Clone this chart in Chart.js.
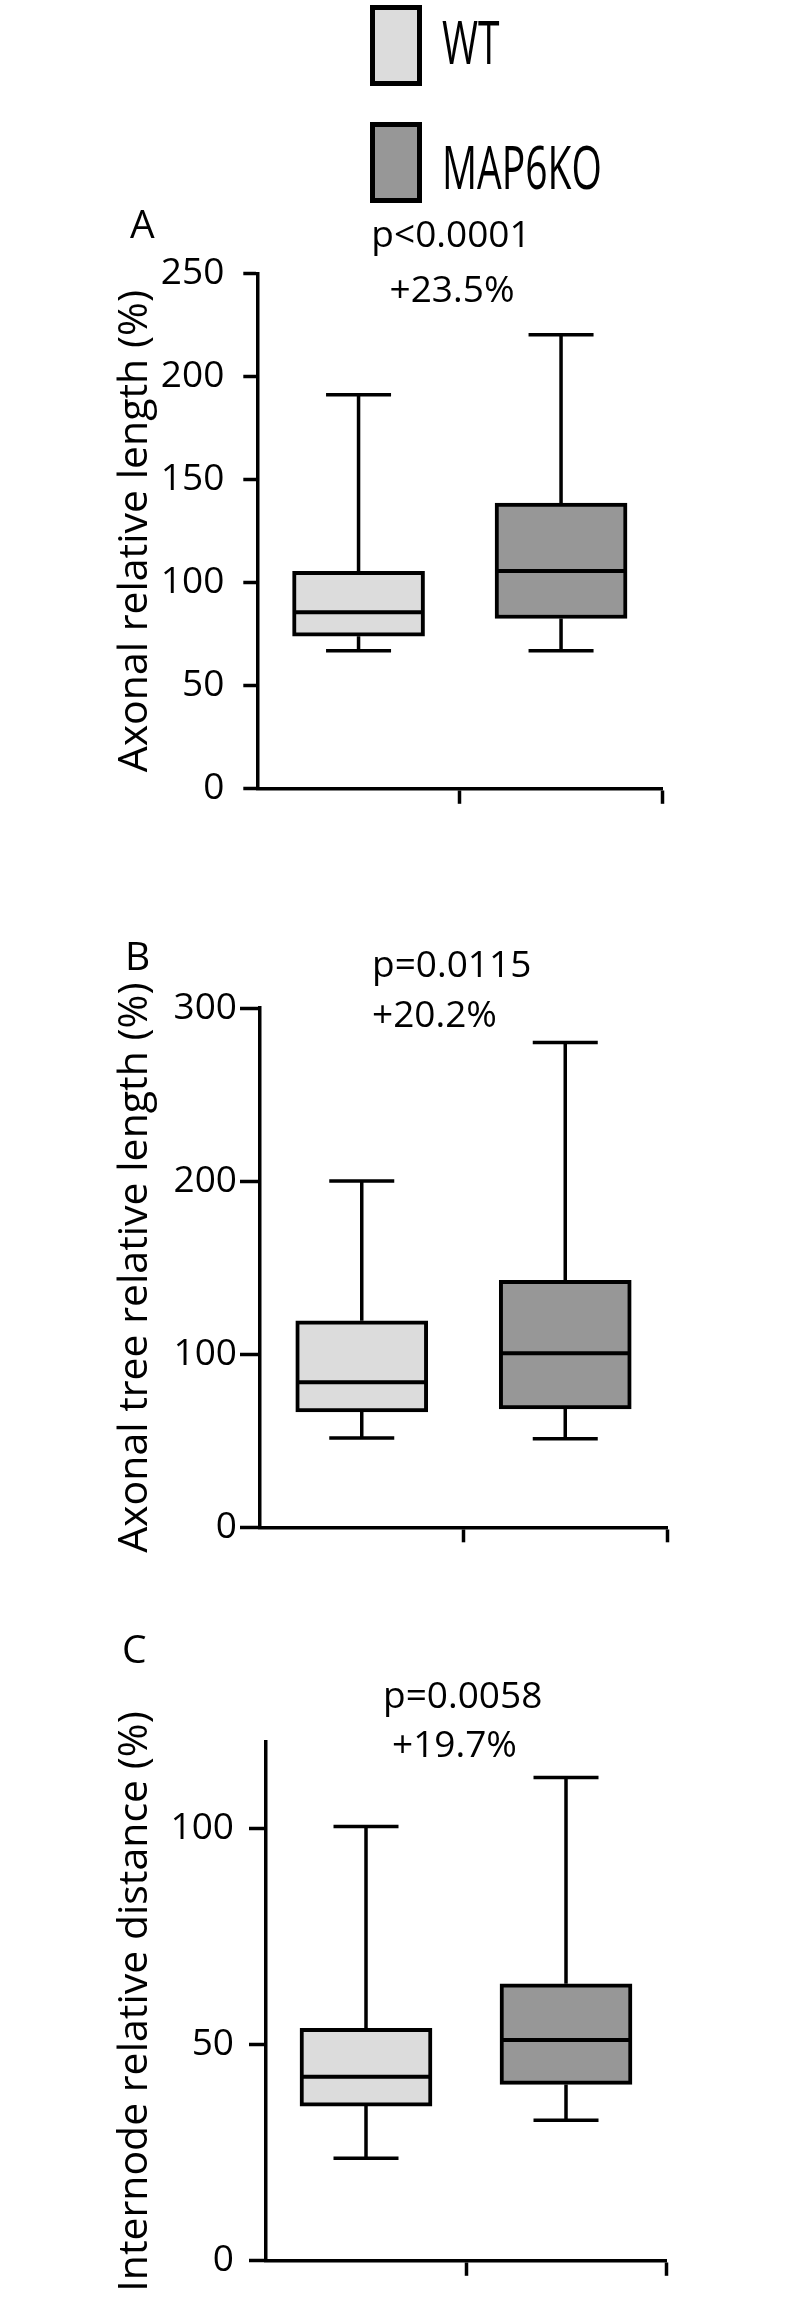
<!DOCTYPE html>
<html>
<head>
<meta charset="utf-8">
<script src="https://cdn.jsdelivr.net/npm/chart.js@4.4.1/dist/chart.umd.min.js"></script>
<style>
  html, body { margin: 0; padding: 0; background: #fff; }
  #page { position: relative; width: 789px; height: 2298px; overflow: hidden; font-family: "Open Sans", sans-serif; }
  canvas { position: absolute; left: 0; }
  .key { position: absolute; left: 370px; width: 42px; height: 71px; border: 5px solid #000; }
  .key-label { position: absolute; left: 442px; font-size: 61px; line-height: 61px; transform: scaleX(0.64); transform-origin: 0 0; color: #000; white-space: nowrap; }
</style>
</head>
<body>
<div id="page">
  <div class="key" style="top:5px;background:#dcdcdc"></div>
  <div class="key-label" style="top:10px">WT</div>
  <div class="key" style="top:122px;background:#979797"></div>
  <div class="key-label" style="top:135px">MAP6KO</div>

  <canvas id="chartA" width="789" height="640" style="top:190px"></canvas>
  <canvas id="chartB" width="789" height="640" style="top:930px"></canvas>
  <canvas id="chartC" width="789" height="698" style="top:1600px"></canvas>
</div>
<script>
const groups = ['WT', 'MAP6KO'];
const fills = ['#dcdcdc', '#979797'];

// A: axonal relative length (%)
const minA = [67, 67];
const q1A = [74, 82.6];
const medA = [85.7, 105.7];
const q3A = [105.5, 138.6];
const maxA = [191.2, 220.3];
const ticksA = [0, 50, 100, 150, 200, 250];

// B: axonal tree relative length (%)
const minB = [51.6, 51.1];
const q1B = [66.6, 68.4];
const medB = [83.8, 100.6];
const q3B = [119.3, 142.7];
const maxB = [200, 280];
const ticksB = [0, 100, 200, 300];

// C: internode relative distance (%)
const minC = [23.7, 32.5];
const q1C = [35.8, 40.8];
const medC = [42.6, 51.1];
const q3C = [53.8, 64.1];
const maxC = [100.5, 111.8];
const ticksC = [0, 50, 100];

Chart.defaults.font.family = "'Open Sans', sans-serif";
Chart.defaults.color = '#000';

function whiskerPlugin(mins, meds, maxs) {
  return {
    id: 'whiskers',
    afterDatasetsDraw(chart) {
      const ctx = chart.ctx;
      const y = chart.scales.y;
      const ds = chart.data.datasets[0].data;
      ctx.save();
      ctx.strokeStyle = '#000';
      chart.getDatasetMeta(0).data.forEach((bar, i) => {
        const x = bar.x;
        const half = bar.width / 2;
        const cap = 32.5;
        const lo = y.getPixelForValue(ds[i][0]);
        const hi = y.getPixelForValue(ds[i][1]);
        const yMin = y.getPixelForValue(mins[i]);
        const yMax = y.getPixelForValue(maxs[i]);
        const yMed = y.getPixelForValue(meds[i]);
        ctx.lineWidth = 3.5;
        ctx.beginPath();
        ctx.moveTo(x, hi); ctx.lineTo(x, yMax);
        ctx.moveTo(x, lo); ctx.lineTo(x, yMin);
        ctx.moveTo(x - cap, yMax); ctx.lineTo(x + cap, yMax);
        ctx.moveTo(x - cap, yMin); ctx.lineTo(x + cap, yMin);
        ctx.stroke();
        ctx.lineWidth = 4;
        ctx.beginPath();
        ctx.moveTo(x - half + 2, yMed); ctx.lineTo(x + half - 2, yMed);
        ctx.stroke();
      });
      ctx.restore();
    }
  };
}

function notesPlugin(notes) {
  return {
    id: 'notes',
    afterDraw(chart) {
      const ctx = chart.ctx;
      ctx.save();
      ctx.fillStyle = '#000';
      ctx.textBaseline = 'alphabetic';
      notes.forEach(n => {
        ctx.font = n.size + "px 'Open Sans'";
        ctx.textAlign = n.align;
        ctx.fillText(n.text, n.x, n.y);
      });
      ctx.restore();
    }
  };
}

function boxChart(id, s) {
  new Chart(document.getElementById(id), {
    type: 'bar',
    data: {
      labels: groups,
      datasets: [{
        data: s.q1.map((v, i) => [v, s.q3[i]]),
        backgroundColor: fills,
        borderColor: '#000',
        borderWidth: 4,
        borderSkipped: false,
        barThickness: 132
      }]
    },
    options: {
      responsive: false,
      animation: false,
      layout: { padding: s.padding },
      plugins: { legend: { display: false }, tooltip: { enabled: false } },
      scales: {
        x: {
          type: 'category',
          offset: true,
          afterFit: sc => { sc.height = 20; },
          ticks: { display: false },
          grid: {
            offset: true,
            drawOnChartArea: false,
            drawTicks: true,
            tickLength: 15,
            tickWidth: 3.5,
            tickColor: c => c.index === 0 ? 'rgba(0,0,0,0)' : '#000'
          },
          border: { display: true, color: '#000', width: 3.5 }
        },
        y: {
          min: 0,
          max: s.max,
          afterFit: sc => { sc.width = s.yWidth; },
          afterBuildTicks: sc => { sc.ticks = s.ticks.map(v => ({ value: v })); },
          ticks: { autoSkip: false, padding: s.tickPad, font: { size: 37 }, color: '#000' },
          grid: {
            drawOnChartArea: false,
            drawTicks: true,
            tickLength: s.tickLen,
            tickWidth: 3.5,
            tickColor: '#000'
          },
          border: { display: true, color: '#000', width: 3.5 },
          title: { display: true, text: s.title, font: { size: 41 }, color: '#000', padding: 0 }
        }
      }
    },
    plugins: [whiskerPlugin(s.min, s.med, s.maxv), notesPlugin(s.notes)]
  });
}

boxChart('chartA', {
  q1: q1A, q3: q3A, min: minA, med: medA, maxv: maxA, ticks: ticksA, max: 250,
  title: 'Axonal relative length (%)',
  padding: { left: 110.4, top: 83.5, right: 126.7, bottom: 16.5 },
  yWidth: 146.9, tickLen: 14, tickPad: 19,
  notes: [
    { text: 'A', x: 130, y: 48, align: 'left', size: 39 },
    { text: 'p<0.0001', x: 451, y: 56.7, align: 'center', size: 37 },
    { text: '+23.5%', x: 452, y: 111.7, align: 'center', size: 37 }
  ]
});

boxChart('chartB', {
  q1: q1B, q3: q3B, min: minB, med: medB, maxv: maxB, ticks: ticksB, max: 300,
  title: 'Axonal tree relative length (%)',
  padding: { left: 110.4, top: 78, right: 122, bottom: 22.7 },
  yWidth: 149.6, tickLen: 20, tickPad: 3,
  notes: [
    { text: 'B', x: 125, y: 40, align: 'left', size: 39 },
    { text: 'p=0.0115', x: 372, y: 47, align: 'left', size: 37 },
    { text: '+20.2%', x: 372, y: 97, align: 'left', size: 37 }
  ]
});

boxChart('chartC', {
  q1: q1C, q3: q3C, min: minC, med: medC, maxv: maxC, ticks: ticksC, max: 120,
  title: 'Internode relative distance (%)',
  padding: { left: 110.4, top: 142.1, right: 123, bottom: 13.7 },
  yWidth: 155.6, tickLen: 17, tickPad: 15,
  notes: [
    { text: 'C', x: 122, y: 63, align: 'left', size: 39 },
    { text: 'p=0.0058', x: 383, y: 108, align: 'left', size: 37 },
    { text: '+19.7%', x: 392, y: 157, align: 'left', size: 37 }
  ]
});
</script>
</body>
</html>
